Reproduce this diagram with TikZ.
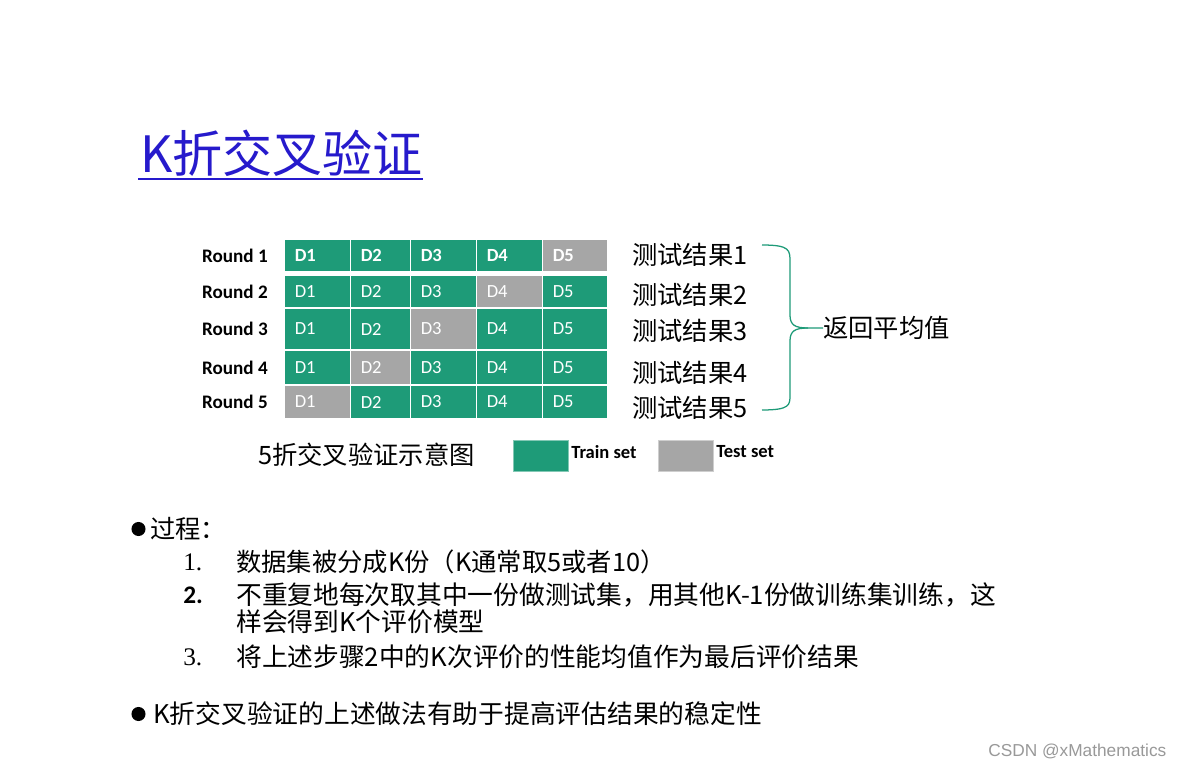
\documentclass[tikz,border=0pt]{standalone}
\usepackage{fontspec}
\setmainfont{Liberation Serif}
\newfontfamily\cjk{Noto Sans CJK SC}
\newfontfamily\calib{Carlito}
\newfontfamily\wmfont{Liberation Sans}
\usetikzlibrary{positioning}

\definecolor{trainc}{RGB}{30,155,120}
\definecolor{testc}{RGB}{166,166,166}
\definecolor{titleblue}{RGB}{38,26,204}

\begin{document}
\begin{tikzpicture}[
        x=0.025cm,
        y=-0.025cm,
        every node/.style={
            inner sep=0pt,
            anchor=west
        },
        roundlabel/.style={
            font=\calib\bfseries\fontsize{13.6}{15}\selectfont,
            anchor=east
        },
        dlabel/.style={
            font=\calib\fontsize{13.2}{15}\selectfont,
            text=white
        },
        cjktext/.style={
            font=\cjk\fontsize{18}{21}\selectfont
        },
        bodytext/.style={
            font=\cjk\fontsize{18.3}{21}\selectfont
        },
        numlabel/.style={
            font=\fontsize{18}{21}\selectfont
        },
        keybox/.style={
            minimum width=13.75mm,
            minimum height=7.75mm,
            line width=0.7pt
        },
        keylabel/.style={
            font=\calib\bfseries\fontsize{13.2}{15}\selectfont,
            yshift=2.5pt
        },
        brace/.style={
            draw=trainc,
            line width=0.9pt
        },
        dot/.style={
            fill=black
        }
    ]

    % Page
    \path[fill=white,use as bounding box] (0,0) rectangle (1180,767);

    % Title
    \node[font=\cjk\fontsize{35.6}{40}\selectfont, text=titleblue] (title) at (140,153) {K折交叉验证};
    \draw[titleblue, line width=1.8pt] (138,179) -- (423,179);

    % Folds, one row per round
    \foreach \rw/\ya/\yb/\tst in {1/240/271/5, 2/276/307/4, 3/309/349/3, 4/351/384/2, 5/386/418/1} {
        \node[roundlabel] (round\rw) at (268,{(\ya+\yb)/2}) {Round \rw};
        \foreach \cl/\xa/\xb in {1/285/350, 2/351/410, 3/411/476, 4/477/542, 5/543/607} {
            \ifnum\cl=\tst\def\cellcol{testc}\else\def\cellcol{trainc}\fi
            \ifnum\rw=1\def\dweight{\bfseries}\else\def\dweight{}\fi
            \path[fill=\cellcol] (\xa,\ya) rectangle (\xb,\yb);
            \node[dlabel] (d\rw\cl) at (\xa+9.5,{(\ya+\yb)/2}) {\dweight D\cl};
        }
    }

    % Test results
    \foreach \i/\yy in {1/255, 2/295, 3/331, 4/373, 5/408}
        \node[cjktext] (res\i) at (632,\yy) {测试结果\i};

    \node[cjktext] (avg) at (823,328) {返回平均值};

    % Brace to the average
    \coordinate (bt) at (762,245);
    \coordinate (bb) at (762,410);
    \draw[brace] (bt) .. controls (790,245) and (790,250) .. (790,262)
        -- (790,315) .. controls (790,325) and (795,328) .. (808,328) -- (avg.west);
    \draw[brace] (bb) .. controls (790,410) and (790,405) .. (790,395)
        -- (790,341) .. controls (790,331) and (795,328) .. (808,328);

    % Legend
    \node[cjktext] (caption) at (258,455) {5折交叉验证示意图};
    \node[keybox, fill=trainc, draw=trainc!55!white] (trainkey) at (513,455.5) {};
    \node[keylabel, right=0.5mm of trainkey] (trainlab) {Train set};
    \node[keybox, fill=testc, draw=testc!55!white] (testkey) at (658,455.5) {};
    \node[keylabel, right=0.5mm of testkey] (testlab) {Test set};

    % Procedure
    \fill[dot] (138.5,529) circle (5pt);
    \node[cjktext] (proc) at (150,529) {过程：};

    \node[numlabel] (n1) at (183,562) {1.};
    \node[cjktext] (s1) at (236,562) {数据集被分成K份（K通常取5或者10）};
    \node[font=\calib\bfseries\fontsize{18}{21}\selectfont] (n2) at (183,595) {2.};
    \node[bodytext] (s2a) at (236,595) {不重复地每次取其中一份做测试集，用其他K-1份做训练集训练，这};
    \node[bodytext] (s2b) at (236,622) {样会得到K个评价模型};
    \node[numlabel] (n3) at (183,657) {3.};
    \node[bodytext] (s3) at (236,657) {将上述步骤2中的K次评价的性能均值作为最后评价结果};

    \fill[dot] (138.5,714) circle (5pt);
    \node[bodytext] (s4) at (153,714) {K折交叉验证的上述做法有助于提高评估结果的稳定性};

    % Watermark
    \node[font=\wmfont\fontsize{12.3}{14}\selectfont, text=black!40] (csdn) at (988,751) {CSDN @xMathematics};

\end{tikzpicture}
\end{document}
